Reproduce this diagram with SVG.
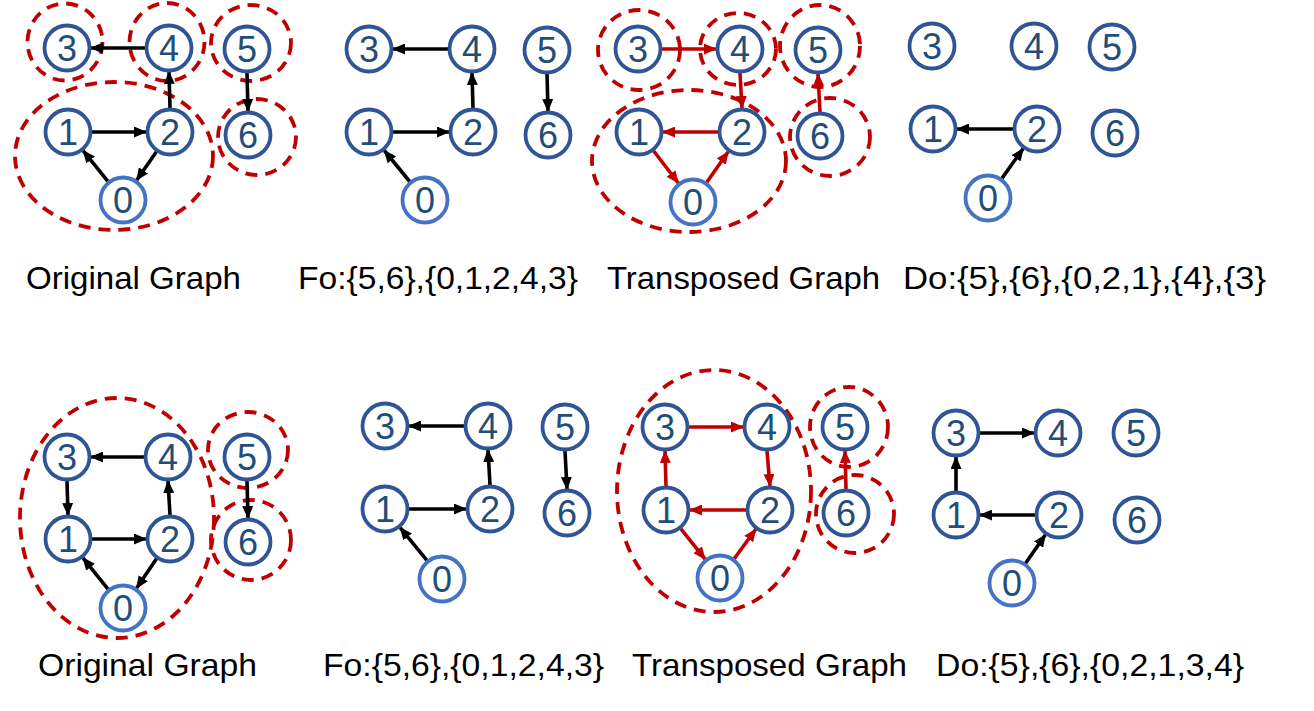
<svg xmlns="http://www.w3.org/2000/svg" width="1314" height="711" viewBox="0 0 1314 711">
<defs>
<style>
.nd circle{fill:#fff;stroke:#2F5597;stroke-width:3.8}
.nd.z circle{stroke:#4472C4}
.nd text{font-family:"Liberation Sans",Arial,sans-serif;font-size:36px;fill:#1F4E79;text-anchor:middle}
.e{stroke:#000;stroke-width:3.6;fill:none;marker-end:url(#ab)}
.r{stroke:#C00000;stroke-width:3.6;fill:none;marker-end:url(#ar)}
.scc{fill:none;stroke:#C00000;stroke-width:3.8;stroke-dasharray:12 8}
.lbl{font-family:"Liberation Sans",Arial,sans-serif;font-size:32px;fill:#000}
</style>
<marker id="ab" viewBox="0 0 13 11" markerWidth="13" markerHeight="11" refX="12" refY="5.5" orient="auto" markerUnits="userSpaceOnUse"><path d="M0,0 L13,5.5 L0,11 z" fill="#000"/></marker>
<marker id="ar" viewBox="0 0 13 11" markerWidth="13" markerHeight="11" refX="12" refY="5.5" orient="auto" markerUnits="userSpaceOnUse"><path d="M0,0 L13,5.5 L0,11 z" fill="#C00000"/></marker>
</defs>
<rect width="1314" height="711" fill="#fff"/>

<g id="scc-groups">
<ellipse class="scc" cx="65" cy="42" rx="37.5" ry="38.5"/>
<ellipse class="scc" cx="167" cy="42" rx="37.5" ry="39"/>
<ellipse class="scc" cx="251" cy="43" rx="40" ry="38"/>
<ellipse class="scc" cx="257" cy="137" rx="39" ry="38"/>
<ellipse class="scc" cx="114" cy="156" rx="99" ry="74"/>

<ellipse class="scc" cx="639" cy="50" rx="41" ry="40"/>
<ellipse class="scc" cx="738" cy="49" rx="38" ry="36"/>
<ellipse class="scc" cx="820" cy="46" rx="40" ry="41"/>
<ellipse class="scc" cx="830" cy="137" rx="40" ry="39"/>
<ellipse class="scc" cx="689" cy="161" rx="97" ry="71"/>

<ellipse class="scc" cx="117" cy="518" rx="97" ry="120"/>
<ellipse class="scc" cx="248" cy="450" rx="40" ry="38"/>
<ellipse class="scc" cx="251" cy="540" rx="40" ry="40"/>

<ellipse class="scc" cx="714" cy="491" rx="97" ry="121"/>
<ellipse class="scc" cx="849" cy="427" rx="39" ry="40"/>
<ellipse class="scc" cx="855" cy="514" rx="39" ry="39"/>
</g>

<g id="connectors">
<line class="e" x1="145" y1="48" x2="91" y2="48"/>
<line class="e" x1="170" y1="108" x2="169" y2="72"/>
<line class="e" x1="92" y1="132" x2="146" y2="132"/>
<line class="e" x1="156.4" y1="151.7" x2="136.6" y2="180.3"/>
<line class="e" x1="107.9" y1="181.4" x2="83.1" y2="150.6"/>
<line class="e" x1="247" y1="73" x2="248" y2="111"/>

<line class="e" x1="448" y1="49" x2="393" y2="49"/>
<line class="e" x1="473" y1="108" x2="472" y2="73"/>
<line class="e" x1="393" y1="132" x2="449" y2="132"/>
<line class="e" x1="409.7" y1="181.5" x2="384.3" y2="150.5"/>
<line class="e" x1="547" y1="74" x2="548" y2="111"/>

<line class="r" x1="662" y1="49" x2="716" y2="49"/>
<line class="r" x1="740" y1="73" x2="742" y2="108"/>
<line class="r" x1="718" y1="132" x2="663" y2="132"/>
<line class="r" x1="653.7" y1="151" x2="678.3" y2="183"/>
<line class="r" x1="706.8" y1="182.3" x2="728.2" y2="151.7"/>
<line class="r" x1="820" y1="112" x2="818" y2="74"/>

<line class="e" x1="1013" y1="129" x2="957" y2="129"/>
<line class="e" x1="1001.9" y1="178.4" x2="1023.1" y2="148.6"/>

<line class="e" x1="144" y1="457" x2="91" y2="457"/>
<line class="e" x1="67" y1="481" x2="68" y2="515"/>
<line class="e" x1="92" y1="539" x2="146" y2="539"/>
<line class="e" x1="170" y1="515" x2="168" y2="481"/>
<line class="e" x1="156.5" y1="558.8" x2="136.5" y2="588.2"/>
<line class="e" x1="108" y1="589.2" x2="83" y2="557.8"/>
<line class="e" x1="247" y1="481" x2="248" y2="518"/>

<line class="e" x1="464" y1="426" x2="409" y2="426"/>
<line class="e" x1="490" y1="485" x2="488" y2="450"/>
<line class="e" x1="409" y1="509" x2="466" y2="509"/>
<line class="e" x1="426.9" y1="560.4" x2="400.1" y2="527.6"/>
<line class="e" x1="565" y1="451" x2="567" y2="489"/>

<line class="r" x1="689" y1="427" x2="743" y2="427"/>
<line class="r" x1="767" y1="451" x2="770" y2="486"/>
<line class="r" x1="746" y1="510" x2="690" y2="510"/>
<line class="r" x1="666" y1="486" x2="665" y2="451"/>
<line class="r" x1="680.9" y1="528.8" x2="705.1" y2="559.2"/>
<line class="r" x1="734.2" y1="558.7" x2="755.8" y2="529.3"/>
<line class="r" x1="846" y1="489" x2="845" y2="451"/>

<line class="e" x1="980" y1="433" x2="1034" y2="433"/>
<line class="e" x1="956" y1="491" x2="956" y2="457"/>
<line class="e" x1="1035" y1="515" x2="980" y2="515"/>
<line class="e" x1="1025.6" y1="563.3" x2="1045.4" y2="534.7"/>
</g>

<g id="panel1">
<g id="p1-n3" class="nd"><circle cx="67" cy="48" r="22.5"/><text x="67" y="61">3</text></g>
<g id="p1-n4" class="nd"><circle cx="169" cy="48" r="22.5"/><text x="169" y="61">4</text></g>
<g id="p1-n5" class="nd"><circle cx="247" cy="49" r="22.5"/><text x="247" y="62">5</text></g>
<g id="p1-n1" class="nd"><circle cx="68" cy="132" r="22.5"/><text x="68" y="145">1</text></g>
<g id="p1-n2" class="nd"><circle cx="170" cy="132" r="22.5"/><text x="170" y="145">2</text></g>
<g id="p1-n6" class="nd"><circle cx="248" cy="135" r="22.5"/><text x="248" y="148">6</text></g>
<g id="p1-n0" class="nd z"><circle cx="123" cy="200" r="22.5"/><text x="123" y="213">0</text></g>
</g>

<g id="panel2">
<g id="p2-n3" class="nd"><circle cx="369" cy="49" r="22.5"/><text x="369" y="62">3</text></g>
<g id="p2-n4" class="nd"><circle cx="472" cy="49" r="22.5"/><text x="472" y="62">4</text></g>
<g id="p2-n5" class="nd"><circle cx="547" cy="50" r="22.5"/><text x="547" y="63">5</text></g>
<g id="p2-n1" class="nd"><circle cx="369" cy="132" r="22.5"/><text x="369" y="145">1</text></g>
<g id="p2-n2" class="nd"><circle cx="473" cy="132" r="22.5"/><text x="473" y="145">2</text></g>
<g id="p2-n6" class="nd"><circle cx="548" cy="135" r="22.5"/><text x="548" y="148">6</text></g>
<g id="p2-n0" class="nd z"><circle cx="425" cy="200" r="22.5"/><text x="425" y="213">0</text></g>
</g>

<g id="panel3">
<g id="p3-n3" class="nd"><circle cx="638" cy="49" r="22.5"/><text x="638" y="62">3</text></g>
<g id="p3-n4" class="nd"><circle cx="740" cy="49" r="22.5"/><text x="740" y="62">4</text></g>
<g id="p3-n5" class="nd"><circle cx="818" cy="50" r="22.5"/><text x="818" y="63">5</text></g>
<g id="p3-n1" class="nd"><circle cx="639" cy="132" r="22.5"/><text x="639" y="145">1</text></g>
<g id="p3-n2" class="nd"><circle cx="742" cy="132" r="22.5"/><text x="742" y="145">2</text></g>
<g id="p3-n6" class="nd"><circle cx="820" cy="136" r="22.5"/><text x="820" y="149">6</text></g>
<g id="p3-n0" class="nd z"><circle cx="693" cy="202" r="22.5"/><text x="693" y="215">0</text></g>
</g>

<g id="panel4">
<g id="p4-n3" class="nd"><circle cx="932" cy="46" r="22.5"/><text x="932" y="59">3</text></g>
<g id="p4-n4" class="nd"><circle cx="1034" cy="46" r="22.5"/><text x="1034" y="59">4</text></g>
<g id="p4-n5" class="nd"><circle cx="1112" cy="47" r="22.5"/><text x="1112" y="60">5</text></g>
<g id="p4-n1" class="nd"><circle cx="933" cy="129" r="22.5"/><text x="933" y="142">1</text></g>
<g id="p4-n2" class="nd"><circle cx="1037" cy="129" r="22.5"/><text x="1037" y="142">2</text></g>
<g id="p4-n6" class="nd"><circle cx="1115" cy="133" r="22.5"/><text x="1115" y="146">6</text></g>
<g id="p4-n0" class="nd z"><circle cx="988" cy="198" r="22.5"/><text x="988" y="211">0</text></g>
</g>

<g id="panel5">
<g id="p5-n3" class="nd"><circle cx="67" cy="457" r="22.5"/><text x="67" y="470">3</text></g>
<g id="p5-n4" class="nd"><circle cx="168" cy="457" r="22.5"/><text x="168" y="470">4</text></g>
<g id="p5-n5" class="nd"><circle cx="247" cy="457" r="22.5"/><text x="247" y="470">5</text></g>
<g id="p5-n1" class="nd"><circle cx="68" cy="539" r="22.5"/><text x="68" y="552">1</text></g>
<g id="p5-n2" class="nd"><circle cx="170" cy="539" r="22.5"/><text x="170" y="552">2</text></g>
<g id="p5-n6" class="nd"><circle cx="248" cy="542" r="22.5"/><text x="248" y="555">6</text></g>
<g id="p5-n0" class="nd z"><circle cx="123" cy="608" r="22.5"/><text x="123" y="621">0</text></g>
</g>

<g id="panel6">
<g id="p6-n3" class="nd"><circle cx="385" cy="426" r="22.5"/><text x="385" y="439">3</text></g>
<g id="p6-n4" class="nd"><circle cx="488" cy="426" r="22.5"/><text x="488" y="439">4</text></g>
<g id="p6-n5" class="nd"><circle cx="565" cy="427" r="22.5"/><text x="565" y="440">5</text></g>
<g id="p6-n1" class="nd"><circle cx="385" cy="509" r="22.5"/><text x="385" y="522">1</text></g>
<g id="p6-n2" class="nd"><circle cx="490" cy="509" r="22.5"/><text x="490" y="522">2</text></g>
<g id="p6-n6" class="nd"><circle cx="567" cy="513" r="22.5"/><text x="567" y="526">6</text></g>
<g id="p6-n0" class="nd z"><circle cx="442" cy="579" r="22.5"/><text x="442" y="592">0</text></g>
</g>

<g id="panel7">
<g id="p7-n3" class="nd"><circle cx="665" cy="427" r="22.5"/><text x="665" y="440">3</text></g>
<g id="p7-n4" class="nd"><circle cx="767" cy="427" r="22.5"/><text x="767" y="440">4</text></g>
<g id="p7-n5" class="nd"><circle cx="845" cy="427" r="22.5"/><text x="845" y="440">5</text></g>
<g id="p7-n1" class="nd"><circle cx="666" cy="510" r="22.5"/><text x="666" y="523">1</text></g>
<g id="p7-n2" class="nd"><circle cx="770" cy="510" r="22.5"/><text x="770" y="523">2</text></g>
<g id="p7-n6" class="nd"><circle cx="846" cy="513" r="22.5"/><text x="846" y="526">6</text></g>
<g id="p7-n0" class="nd z"><circle cx="720" cy="578" r="22.5"/><text x="720" y="591">0</text></g>
</g>

<g id="panel8">
<g id="p8-n3" class="nd"><circle cx="956" cy="433" r="22.5"/><text x="956" y="446">3</text></g>
<g id="p8-n4" class="nd"><circle cx="1058" cy="433" r="22.5"/><text x="1058" y="446">4</text></g>
<g id="p8-n5" class="nd"><circle cx="1136" cy="433" r="22.5"/><text x="1136" y="446">5</text></g>
<g id="p8-n1" class="nd"><circle cx="956" cy="515" r="22.5"/><text x="956" y="528">1</text></g>
<g id="p8-n2" class="nd"><circle cx="1059" cy="515" r="22.5"/><text x="1059" y="528">2</text></g>
<g id="p8-n6" class="nd"><circle cx="1137" cy="520" r="22.5"/><text x="1137" y="533">6</text></g>
<g id="p8-n0" class="nd z"><circle cx="1012" cy="583" r="22.5"/><text x="1012" y="596">0</text></g>
</g>

<g id="labels">
<text class="lbl" x="26" y="289" textLength="215" lengthAdjust="spacingAndGlyphs">Original Graph</text>
<text class="lbl" x="298" y="289" textLength="280" lengthAdjust="spacingAndGlyphs">Fo:{5,6},{0,1,2,4,3}</text>
<text class="lbl" x="607" y="289" textLength="273" lengthAdjust="spacingAndGlyphs">Transposed Graph</text>
<text class="lbl" x="903" y="289" textLength="363" lengthAdjust="spacingAndGlyphs">Do:{5},{6},{0,2,1},{4},{3}</text>
<text class="lbl" x="38" y="676" textLength="219" lengthAdjust="spacingAndGlyphs">Original Graph</text>
<text class="lbl" x="323" y="676" textLength="281" lengthAdjust="spacingAndGlyphs">Fo:{5,6},{0,1,2,4,3}</text>
<text class="lbl" x="632" y="676" textLength="275" lengthAdjust="spacingAndGlyphs">Transposed Graph</text>
<text class="lbl" x="936" y="676" textLength="308" lengthAdjust="spacingAndGlyphs">Do:{5},{6},{0,2,1,3,4}</text>
</g>
</svg>
